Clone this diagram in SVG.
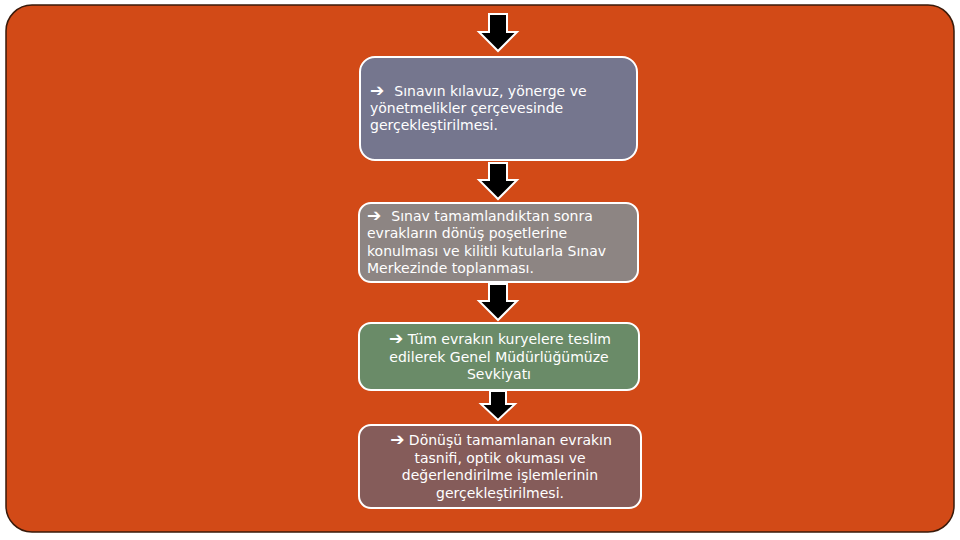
<svg xmlns="http://www.w3.org/2000/svg" width="960" height="540" viewBox="0 0 960 540">
<style>
.box{stroke:#ffffff;stroke-width:2}
.t{font-family:"DejaVu Sans",Verdana,sans-serif;font-size:14px;fill:#ffffff}
.a{font-size:17px;font-weight:bold}
.c{text-anchor:middle}
.arr{fill:#000000;stroke:#ffffff;stroke-width:2;stroke-linejoin:miter}
</style>
<rect x="0" y="0" width="960" height="540" fill="#ffffff"/>
<rect x="6" y="5" width="948" height="527" rx="26" ry="26" fill="#D24A17" stroke="#3a1a0a" stroke-width="1.5"/>
<g id="connectors">
<path class="arr" d="M489,14 H507 V32 H517 L498,51 L479,32 H489 Z"/>
<path class="arr" d="M489,163 H507 V180 H517 L498,199 L479,180 H489 Z"/>
<path class="arr" d="M489,284 H507 V301 H517 L498,320 L479,301 H489 Z"/>
<path class="arr" d="M490,391 H506 V404 H515 L498,420 L481,404 H490 Z"/>
</g>
<g id="node1">
<rect class="box" x="360" y="57" width="277" height="103" rx="15" fill="#75768E"/>
<text class="t" x="370" y="96"><tspan class="a">➔</tspan><tspan dx="10">Sınavın kılavuz, yönerge ve</tspan></text>
<text class="t" x="370" y="113">yönetmelikler çerçevesinde</text>
<text class="t" x="370" y="130">gerçekleştirilmesi.</text>
</g>
<g id="node2">
<rect class="box" x="359" y="203" width="279" height="79" rx="12" fill="#8D8583"/>
<text class="t" x="367" y="221"><tspan class="a">➔</tspan><tspan dx="10">Sınav tamamlandıktan sonra</tspan></text>
<text class="t" x="367" y="238">evrakların dönüş poşetlerine</text>
<text class="t" x="367" y="256">konulması ve kilitli kutularla Sınav</text>
<text class="t" x="367" y="273">Merkezinde toplanması.</text>
</g>
<g id="node3">
<rect class="box" x="359" y="323" width="280" height="67" rx="12" fill="#6A8B68"/>
<text class="t c" x="500" y="344"><tspan class="a">➔</tspan> Tüm evrakın kuryelere teslim</text>
<text class="t c" x="499" y="362">edilerek Genel Müdürlüğümüze</text>
<text class="t c" x="499" y="379">Sevkiyatı</text>
</g>
<g id="node4">
<rect class="box" x="359" y="425" width="282" height="83" rx="12" fill="#855C5A"/>
<text class="t c" x="501" y="445"><tspan class="a">➔</tspan> Dönüşü tamamlanan evrakın</text>
<text class="t c" x="500" y="463">tasnifi, optik okuması ve</text>
<text class="t c" x="500" y="480">değerlendirilme işlemlerinin</text>
<text class="t c" x="500" y="498">gerçekleştirilmesi.</text>
</g>
</svg>
